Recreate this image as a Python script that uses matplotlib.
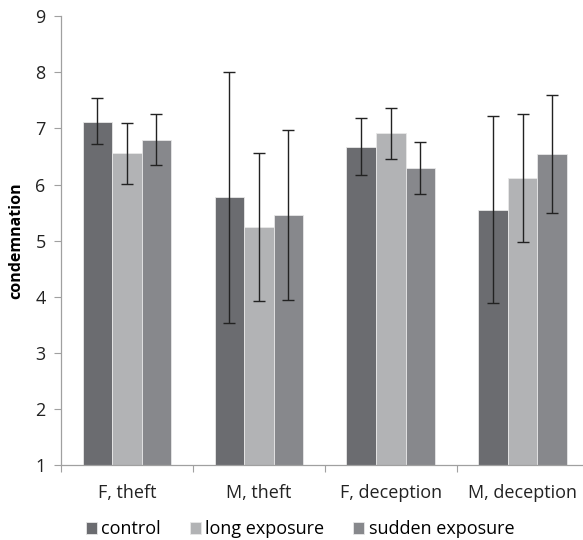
import numpy as np
import matplotlib.pyplot as plt

plt.rcParams['font.family'] = ['Open Sans', 'DejaVu Sans']

categories = ['F, theft', 'M, theft', 'F, deception', 'M, deception']
series = ['control', 'long exposure', 'sudden exposure']
colors = ['#6b6c70', '#b2b3b5', '#87888c']

means = {
    'control':         [7.12, 5.77, 6.67, 5.55],
    'long exposure':   [6.56, 5.24, 6.91, 6.12],
    'sudden exposure': [6.79, 5.45, 6.29, 6.54],
}
err_low = {
    'control':         [6.72, 3.54, 6.17, 3.88],
    'long exposure':   [6.01, 3.93, 6.45, 4.98],
    'sudden exposure': [6.35, 3.94, 5.83, 5.50],
}
err_high = {
    'control':         [7.54, 8.01, 7.19, 7.23],
    'long exposure':   [7.10, 6.57, 7.37, 7.25],
    'sudden exposure': [7.25, 6.97, 6.76, 7.60],
}

fig = plt.figure(figsize=(5.83, 5.4), dpi=100)
ax = fig.add_axes([0.1046, 0.1389, 0.905, 0.831])

x = np.arange(len(categories))
w = 0.224
for i, s in enumerate(series):
    m = np.array(means[s])
    lo = m - np.array(err_low[s])
    hi = np.array(err_high[s]) - m
    ax.bar(x + (i - 1) * w, m - 1, w, bottom=1, color=colors[i],
           edgecolor='#e8e8e8', linewidth=0.6, label=s, zorder=2)
    ax.errorbar(x + (i - 1) * w, m, yerr=[lo, hi], fmt='none',
                ecolor='#222222', elinewidth=1.0, capsize=4.5, capthick=1.0, zorder=3)

ax.set_ylim(1, 9)
ax.set_yticks(range(1, 10))
ax.set_xlim(-0.5, 3.5)
ax.set_xticks(np.arange(-0.5, 4, 1))
ax.set_xticklabels([])
ax.set_xticks(x, minor=True)
ax.set_xticklabels(categories, minor=True)
ax.tick_params(axis='x', which='minor', length=0, pad=14, labelsize=13, colors='#222222')
ax.tick_params(axis='x', which='major', length=5, color='#a0a0a0')
ax.tick_params(axis='y', length=5, color='#a0a0a0', labelsize=13, labelcolor='#222222', pad=6)

for sp in ['top', 'right']:
    ax.spines[sp].set_visible(False)
for sp in ['left', 'bottom']:
    ax.spines[sp].set_color('#a0a0a0')
    ax.spines[sp].set_linewidth(0.9)

ax.set_ylabel('condemnation', fontweight='bold', fontsize=11.5, labelpad=8)

fig.legend(loc='lower center', bbox_to_anchor=(0.515, -0.027), ncol=3, frameon=False,
           fontsize=13, handlelength=0.6, handleheight=0.6, handletextpad=0.25,
           columnspacing=1.6)

fig.savefig('out.png', dpi=100)
